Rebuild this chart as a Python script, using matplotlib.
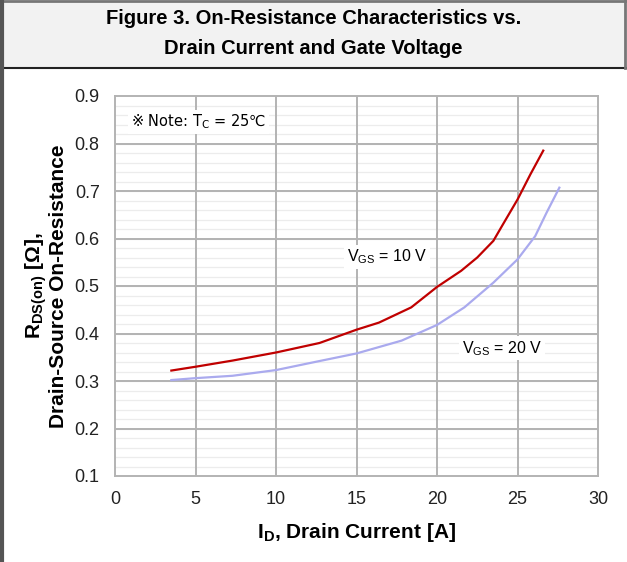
import numpy as np
import matplotlib.pyplot as plt
from matplotlib.patches import Rectangle
from matplotlib.lines import Line2D

# R_DS(on) vs drain current, two gate voltages
id_10v = [3.5, 5, 7.3, 10, 12.7, 15, 16.4, 18.4, 20, 21.5, 22.5, 23.5, 24.1, 25, 25.8, 26.6]
rds_10v = [0.322, 0.330, 0.343, 0.360, 0.380, 0.408, 0.423, 0.455, 0.498, 0.532,
           0.560, 0.595, 0.630, 0.682, 0.735, 0.785]

id_20v = [3.5, 5, 7.3, 10, 12.7, 15, 17.8, 20, 21.7, 23.5, 25, 26.1, 26.8, 27.6]
rds_20v = [0.302, 0.306, 0.311, 0.323, 0.342, 0.358, 0.385, 0.418, 0.455, 0.507,
           0.556, 0.605, 0.654, 0.707]

x_ticks = [0, 5, 10, 15, 20, 25, 30]
y_ticks = [0.1, 0.2, 0.3, 0.4, 0.5, 0.6, 0.7, 0.8, 0.9]

plt.rcParams["font.family"] = ["Liberation Sans", "Noto Sans CJK JP", "DejaVu Sans"]
plt.rcParams["mathtext.fontset"] = "custom"
plt.rcParams["mathtext.rm"] = "Liberation Sans"
plt.rcParams["mathtext.bf"] = "Liberation Sans:bold"

fig = plt.figure(figsize=(6.27, 5.62), dpi=100)

# title banner and page frame
fig.patches.append(Rectangle((0, 1 - 68 / 562), 1, 68 / 562, transform=fig.transFigure,
                             facecolor="#f2f2f2", edgecolor="none", zorder=0))
fig.lines.append(Line2D([0, 1], [1 - 68 / 562] * 2, transform=fig.transFigure,
                        color="#222222", lw=1.5))
fig.lines.append(Line2D([0, 1], [1 - 1 / 562] * 2, transform=fig.transFigure,
                        color="#777777", lw=2))
fig.lines.append(Line2D([1 - 2 / 627] * 2, [1 - 68 / 562, 1], transform=fig.transFigure,
                        color="#777777", lw=2))
fig.lines.append(Line2D([1.5 / 627] * 2, [0, 1], transform=fig.transFigure,
                        color="#555555", lw=3))
fig.text(0.5, 1 - 19 / 562, "Figure 3. On-Resistance Characteristics vs.",
         ha="center", va="center", fontsize=14.5, fontweight="bold")
fig.text(0.5, 1 - 48 / 562, "Drain Current and Gate Voltage",
         ha="center", va="center", fontsize=14.5, fontweight="bold")

ax = fig.add_axes([115 / 627, 1 - 476 / 562, (598 - 115) / 627, (476 - 96) / 562])

# light minor rows first, then the major grid on top of them
for yv in np.arange(0.12, 0.9, 0.02):
    ax.axhline(yv, color="#ececec", lw=0.9, zorder=0.2)
for xv in x_ticks[1:-1]:
    ax.axvline(xv, color="#b3b3b3", lw=1.4, zorder=0.4)
for yv in y_ticks[1:-1]:
    ax.axhline(yv, color="#b3b3b3", lw=1.4, zorder=0.4)

ax.plot(id_10v, rds_10v, color="#c00000", lw=1.6, zorder=3)
ax.plot(id_20v, rds_20v, color="#aaaaee", lw=1.6, zorder=3)

ax.set_xlim(0, 30)
ax.set_ylim(0.1, 0.9)
ax.set_xticks(x_ticks)
ax.set_yticks(y_ticks)
ax.set_yticklabels([f"{v:.1f}" for v in y_ticks])
ax.tick_params(length=0, labelsize=13, colors="#222222")
ax.tick_params(axis="x", pad=11)
ax.tick_params(axis="y", pad=11)

for s in ax.spines.values():
    s.set_color("#b3b3b3")
    s.set_linewidth(1.4)

ax.set_xlabel(r"I$_\mathregular{D}$, Drain Current [A]", fontsize=15,
              fontweight="bold", labelpad=9)
ax.set_ylabel("R$_\\mathregular{DS(on)}$ [Ω],\nDrain-Source On-Resistance",
              fontsize=15, fontweight="bold", labelpad=5, linespacing=1.0)

box = dict(facecolor="white", edgecolor="none", pad=2)
# DejaVu carries the ※ and ℃ glyphs inside mathtext
ax.text(1.0, 0.845, "※ Note: T$_\\mathregular{C}$ = 25℃", fontsize=10.5,
        va="center", ha="left", bbox=box, zorder=4, math_fontfamily="dejavusans",
        family="DejaVu Sans")
ax.text(14.4, 0.561, "V$_\\mathregular{GS}$ = 10 V", fontsize=11.5,
        va="center", ha="left", bbox=box, zorder=4)
ax.text(21.55, 0.369, "V$_\\mathregular{GS}$ = 20 V", fontsize=11.5,
        va="center", ha="left", bbox=box, zorder=4)

fig.savefig("out.png", dpi=100)
